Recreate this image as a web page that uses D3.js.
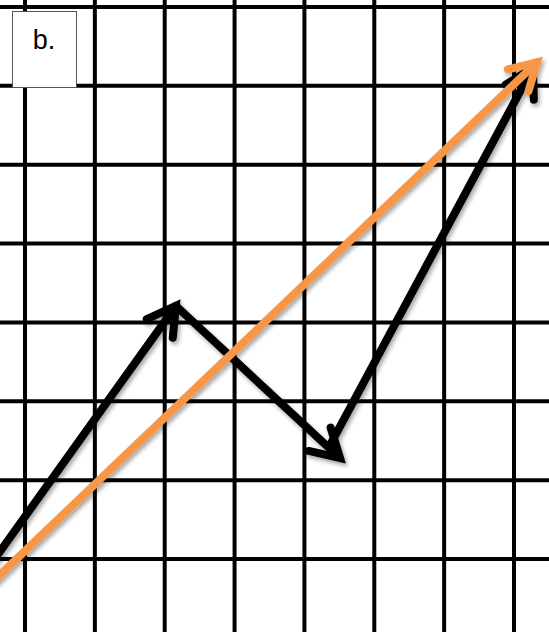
<!DOCTYPE html>
<html>
  <head>
    <script src="https://d3js.org/d3.v7.min.js"></script>
    <style>
      body { margin: 0; background: #fff; }
    </style>
  </head>
  <body>
    <svg width="549" height="632"></svg>
    <script>
      // grid units
      const gridCols = d3.range(0, 8);
      const gridRows = d3.range(0, 8);

      // black arrows, tip-to-tail chain
      const blackStarts = [[-0.5, -0.08], [2.16, 3.21], [4.37, 1.45]];
      const blackEnds = [[2.16, 3.21], [4.51, 1.28], [7.27, 6.23]];

      // orange resultant
      const orangeStart = [-0.5, -0.32];
      const orangeEnd = [7.33, 6.30];

      const panelLabel = "b.";

      const svg = d3.select("svg");
      const width = +svg.attr("width");
      const height = +svg.attr("height");

      const x = d3.scaleLinear().domain([0, 7]).range([25, 514]);
      const y = d3.scaleLinear().domain([0, 7]).range([559, 7]);

      const defs = svg.append("defs");
      const f = defs.append("filter").attr("id", "shadow")
        .attr("x", "-20%").attr("y", "-20%").attr("width", "140%").attr("height", "140%");
      f.append("feDropShadow")
        .attr("dx", 2).attr("dy", 3).attr("stdDeviation", 2)
        .attr("flood-color", "#000").attr("flood-opacity", 0.35);

      // grid
      svg.selectAll("line.v").data(gridCols).enter().append("line")
        .attr("class", "v")
        .attr("x1", d => x(d)).attr("x2", d => x(d))
        .attr("y1", 0).attr("y2", height)
        .attr("stroke", "#000").attr("stroke-width", 4);

      svg.selectAll("line.h").data(gridRows).enter().append("line")
        .attr("class", "h")
        .attr("y1", d => y(d)).attr("y2", d => y(d))
        .attr("x1", 0).attr("x2", width)
        .attr("stroke", "#000").attr("stroke-width", 4);

      // label box
      svg.append("rect")
        .attr("x", 12.5).attr("y", 11.5).attr("width", 64).attr("height", 76)
        .attr("fill", "#fff").attr("stroke", "#555").attr("stroke-width", 1);
      svg.append("text")
        .attr("x", 44).attr("y", 49)
        .attr("text-anchor", "middle")
        .attr("font-family", "Liberation Sans, Arial, sans-serif")
        .attr("font-size", 27)
        .text(panelLabel);

      function arrowPath(s, e, headLen) {
        const x0 = x(s[0]), y0 = y(s[1]);
        const x1 = x(e[0]), y1 = y(e[1]);
        const a = Math.atan2(y0 - y1, x0 - x1);
        const spread = Math.PI / 6;
        const b1 = [x1 + headLen * Math.cos(a + spread), y1 + headLen * Math.sin(a + spread)];
        const b2 = [x1 + headLen * Math.cos(a - spread), y1 + headLen * Math.sin(a - spread)];
        return `M${x0},${y0}L${x1},${y1}M${b1[0]},${b1[1]}L${x1},${y1}L${b2[0]},${b2[1]}`;
      }

      const g = svg.append("g").attr("filter", "url(#shadow)");

      g.selectAll("path.black").data(d3.zip(blackStarts, blackEnds)).enter().append("path")
        .attr("class", "black")
        .attr("d", d => arrowPath(d[0], d[1], 32))
        .attr("fill", "none")
        .attr("stroke", "#000")
        .attr("stroke-width", 8)
        .attr("stroke-linecap", "round")
        .attr("stroke-linejoin", "miter");

      g.append("path")
        .attr("d", arrowPath(orangeStart, orangeEnd, 30))
        .attr("fill", "none")
        .attr("stroke", "#f79646")
        .attr("stroke-width", 8)
        .attr("stroke-linecap", "round")
        .attr("stroke-linejoin", "miter");
    </script>
  </body>
</html>
